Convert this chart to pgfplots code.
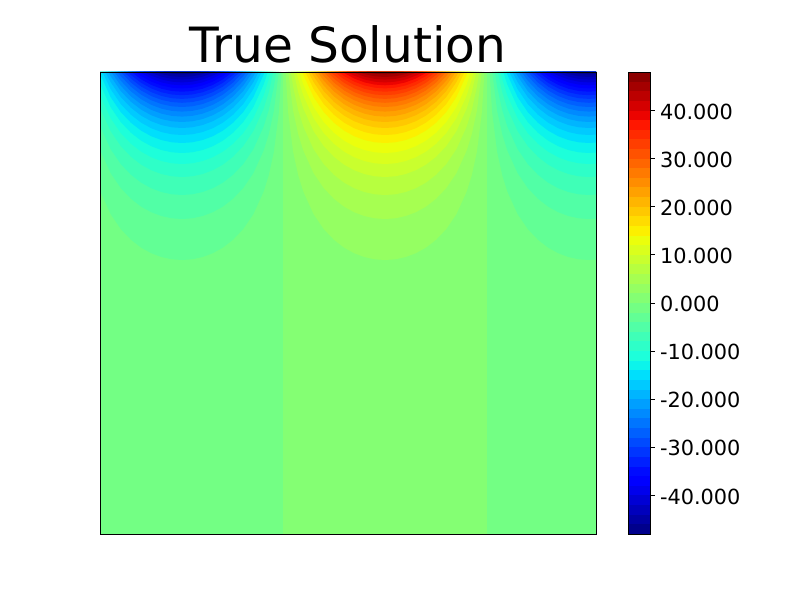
\documentclass[border=0pt]{standalone}
\usepackage{fontspec}
\setmainfont{DejaVu Sans}
\usepackage{pgfplots}
\usepackage{pgfplotstable}
\pgfplotsset{compat=1.18}
% matplotlib jet, 48 bands from -48 to 48 (step 2): pK is band (2K-2,2K), nK the mirror band
\definecolor{p1}{rgb}{.5175,1,.4502}\definecolor{p2}{rgb}{.5847,1,.3830}\definecolor{p3}{rgb}{.6519,1,.3158}
\definecolor{p4}{rgb}{.7191,1,.2486}\definecolor{p5}{rgb}{.7864,1,.1813}\definecolor{p6}{rgb}{.8536,1,.1141}
\definecolor{p7}{rgb}{.9207,1,.0470}\definecolor{p8}{rgb}{.9881,.9396,0}\definecolor{p9}{rgb}{1,.8626,0}
\definecolor{p10}{rgb}{1,.7855,0}\definecolor{p11}{rgb}{1,.7081,0}\definecolor{p12}{rgb}{1,.6310,0}
\definecolor{p13}{rgb}{1,.5540,0}\definecolor{p14}{rgb}{1,.4766,0}\definecolor{p15}{rgb}{1,.3995,0}
\definecolor{p16}{rgb}{1,.3225,0}\definecolor{p17}{rgb}{1,.2451,0}\definecolor{p18}{rgb}{1,.1681,0}
\definecolor{p19}{rgb}{1,.0911,0}\definecolor{p20}{rgb}{.9259,.0136,0}\definecolor{p21}{rgb}{.8314,0,0}
\definecolor{p22}{rgb}{.7368,0,0}\definecolor{p23}{rgb}{.6418,0,0}\definecolor{p24}{rgb}{.5473,0,0}
\definecolor{n1}{rgb}{.4503,1,.5174}\definecolor{n2}{rgb}{.3832,1,.5845}\definecolor{n3}{rgb}{.3158,1,.6519}
\definecolor{n4}{rgb}{.2487,1,.7190}\definecolor{n5}{rgb}{.1816,1,.7861}\definecolor{n6}{rgb}{.1142,1,.8535}
\definecolor{n7}{rgb}{.0471,.9584,.9206}\definecolor{n8}{rgb}{0,.8752,.9877}\definecolor{n9}{rgb}{0,.7916,1}
\definecolor{n10}{rgb}{0,.7084,1}\definecolor{n11}{rgb}{0,.6252,1}\definecolor{n12}{rgb}{0,.5416,1}
\definecolor{n13}{rgb}{0,.4584,1}\definecolor{n14}{rgb}{0,.3752,1}\definecolor{n15}{rgb}{0,.2916,1}
\definecolor{n16}{rgb}{0,.2084,1}\definecolor{n17}{rgb}{0,.1252,1}\definecolor{n18}{rgb}{0,.0416,1}
\definecolor{n19}{rgb}{0,0,1}\definecolor{n20}{rgb}{0,0,.9263}\definecolor{n21}{rgb}{0,0,.8313}
\definecolor{n22}{rgb}{0,0,.7368}\definecolor{n23}{rgb}{0,0,.6423}\definecolor{n24}{rgb}{0,0,.5473}
% contour of each level: horizontal offset from the lobe centre, depth below the top edge
\pgfplotstableread[row sep=\\]{dx d\\-99.4 0\\-96.9 40\\-91.8 80.2\\-86.7 103.4\\-81.6 119.7\\-71.4 142.1\\-61.2 157.1\\-51 167.8\\-40.8 175.7\\-30.6 181.3\\-20.4 185.1\\-10.2 187.3\\0 188\\10.2 187.3\\20.4 185.1\\30.6 181.3\\40.8 175.7\\51 167.8\\61.2 157.1\\71.4 142.1\\81.6 119.7\\86.7 103.4\\91.8 80.2\\96.9 40\\99.4 0\\}\Tb
\pgfplotstableread[row sep=\\]{dx d\\-96.8 0\\-91.8 39.2\\-86.7 62.4\\-81.6 78.7\\-71.4 101.1\\-61.2 116.1\\-51 126.8\\-40.8 134.7\\-30.6 140.3\\-20.4 144.1\\-10.2 146.3\\0 147\\10.2 146.3\\20.4 144.1\\30.6 140.3\\40.8 134.7\\51 126.8\\61.2 116.1\\71.4 101.1\\81.6 78.7\\86.7 62.4\\91.8 39.2\\96.8 0\\}\Tc
\pgfplotstableread[row sep=\\]{dx d\\-94.2 0\\-91.8 15.2\\-86.7 38.4\\-81.6 54.7\\-71.4 77.1\\-61.2 92.1\\-51 102.8\\-40.8 110.7\\-30.6 116.3\\-20.4 120.1\\-10.2 122.3\\0 123\\10.2 122.3\\20.4 120.1\\30.6 116.3\\40.8 110.7\\51 102.8\\61.2 92.1\\71.4 77.1\\81.6 54.7\\86.7 38.4\\91.8 15.2\\94.2 0\\}\Td
\pgfplotstableread[row sep=\\]{dx d\\-91.3 0\\-86.7 20.4\\-81.6 36.7\\-71.4 59.1\\-61.2 74.1\\-51 84.8\\-40.8 92.7\\-30.6 98.3\\-20.4 102.1\\-10.2 104.3\\0 105\\10.2 104.3\\20.4 102.1\\30.6 98.3\\40.8 92.7\\51 84.8\\61.2 74.1\\71.4 59.1\\81.6 36.7\\86.7 20.4\\91.3 0\\}\Te
\pgfplotstableread[row sep=\\]{dx d\\-88.6 0\\-86.7 7.4\\-81.6 23.7\\-71.4 46.1\\-61.2 61.1\\-51 71.8\\-40.8 79.7\\-30.6 85.3\\-20.4 89.1\\-10.2 91.3\\0 92\\10.2 91.3\\20.4 89.1\\30.6 85.3\\40.8 79.7\\51 71.8\\61.2 61.1\\71.4 46.1\\81.6 23.7\\86.7 7.4\\88.6 0\\}\Tf
\pgfplotstableread[row sep=\\]{dx d\\-85.7 0\\-81.6 12.7\\-71.4 35.1\\-61.2 50.1\\-51 60.8\\-40.8 68.7\\-30.6 74.3\\-20.4 78.1\\-10.2 80.3\\0 81\\10.2 80.3\\20.4 78.1\\30.6 74.3\\40.8 68.7\\51 60.8\\61.2 50.1\\71.4 35.1\\81.6 12.7\\85.7 0\\}\Tg
\pgfplotstableread[row sep=\\]{dx d\\-82.6 0\\-81.6 2.7\\-71.4 25.1\\-61.2 40.1\\-51 50.8\\-40.8 58.7\\-30.6 64.3\\-20.4 68.1\\-10.2 70.3\\0 71\\10.2 70.3\\20.4 68.1\\30.6 64.3\\40.8 58.7\\51 50.8\\61.2 40.1\\71.4 25.1\\81.6 2.7\\82.6 0\\}\Th
\pgfplotstableread[row sep=\\]{dx d\\-79.6 0\\-71.4 17.1\\-61.2 32.1\\-51 42.8\\-40.8 50.7\\-30.6 56.3\\-20.4 60.1\\-10.2 62.3\\0 63\\10.2 62.3\\20.4 60.1\\30.6 56.3\\40.8 50.7\\51 42.8\\61.2 32.1\\71.4 17.1\\79.6 0\\}\Ti
\pgfplotstableread[row sep=\\]{dx d\\-76.6 0\\-71.4 10.1\\-61.2 25.1\\-51 35.8\\-40.8 43.7\\-30.6 49.3\\-20.4 53.1\\-10.2 55.3\\0 56\\10.2 55.3\\20.4 53.1\\30.6 49.3\\40.8 43.7\\51 35.8\\61.2 25.1\\71.4 10.1\\76.6 0\\}\Tj
\pgfplotstableread[row sep=\\]{dx d\\-73.6 0\\-71.4 4.1\\-61.2 19.1\\-51 29.8\\-40.8 37.7\\-30.6 43.3\\-20.4 47.1\\-10.2 49.3\\0 50\\10.2 49.3\\20.4 47.1\\30.6 43.3\\40.8 37.7\\51 29.8\\61.2 19.1\\71.4 4.1\\73.6 0\\}\Tk
\pgfplotstableread[row sep=\\]{dx d\\-70.7 0\\-61.2 13.7\\-51 24.4\\-40.8 32.3\\-30.6 37.9\\-20.4 41.7\\-10.2 43.9\\0 44.6\\10.2 43.9\\20.4 41.7\\30.6 37.9\\40.8 32.3\\51 24.4\\61.2 13.7\\70.7 0\\}\Tl
\pgfplotstableread[row sep=\\]{dx d\\-67.5 0\\-61.2 8.7\\-51 19.4\\-40.8 27.3\\-30.6 32.9\\-20.4 36.7\\-10.2 38.9\\0 39.6\\10.2 38.9\\20.4 36.7\\30.6 32.9\\40.8 27.3\\51 19.4\\61.2 8.7\\67.5 0\\}\Tm
\pgfplotstableread[row sep=\\]{dx d\\-64.4 0\\-61.2 4.1\\-51 14.8\\-40.8 22.7\\-30.6 28.3\\-20.4 32.1\\-10.2 34.3\\0 35\\10.2 34.3\\20.4 32.1\\30.6 28.3\\40.8 22.7\\51 14.8\\61.2 4.1\\64.4 0\\}\Tn
\pgfplotstableread[row sep=\\]{dx d\\-61.1 0\\-51 10.6\\-40.8 18.5\\-30.6 24.1\\-20.4 27.9\\-10.2 30.1\\0 30.8\\10.2 30.1\\20.4 27.9\\30.6 24.1\\40.8 18.5\\51 10.6\\61.1 0\\}\To
\pgfplotstableread[row sep=\\]{dx d\\-57.8 0\\-51 6.7\\-40.8 14.6\\-30.6 20.2\\-20.4 24\\-10.2 26.2\\0 26.9\\10.2 26.2\\20.4 24\\30.6 20.2\\40.8 14.6\\51 6.7\\57.8 0\\}\Tp
\pgfplotstableread[row sep=\\]{dx d\\-54.2 0\\-51 3\\-40.8 10.9\\-30.6 16.5\\-20.4 20.3\\-10.2 22.5\\0 23.2\\10.2 22.5\\20.4 20.3\\30.6 16.5\\40.8 10.9\\51 3\\54.2 0\\}\Tq
\pgfplotstableread[row sep=\\]{dx d\\-50.5 0\\-40.8 7.4\\-30.6 13\\-20.4 16.8\\-10.2 19\\0 19.7\\10.2 19\\20.4 16.8\\30.6 13\\40.8 7.4\\50.5 0\\}\Tr
\pgfplotstableread[row sep=\\]{dx d\\-46.5 0\\-40.8 4.1\\-30.6 9.7\\-20.4 13.5\\-10.2 15.7\\0 16.4\\10.2 15.7\\20.4 13.5\\30.6 9.7\\40.8 4.1\\46.5 0\\}\Ts
\pgfplotstableread[row sep=\\]{dx d\\-42.3 0\\-40.8 1\\-30.6 6.6\\-20.4 10.4\\-10.2 12.6\\0 13.3\\10.2 12.6\\20.4 10.4\\30.6 6.6\\40.8 1\\42.3 0\\}\Tt
\pgfplotstableread[row sep=\\]{dx d\\-38.3 0\\-30.6 3.7\\-20.4 7.5\\-10.2 9.7\\0 10.4\\10.2 9.7\\20.4 7.5\\30.6 3.7\\38.3 0\\}\Tu
\pgfplotstableread[row sep=\\]{dx d\\-32.5 0\\-30.6 .9\\-20.4 4.7\\-10.2 6.9\\0 7.6\\10.2 6.9\\20.4 4.7\\30.6 .9\\32.5 0\\}\Tv
\pgfplotstableread[row sep=\\]{dx d\\-26.5 0\\-20.4 2.1\\-10.2 4.3\\0 5\\10.2 4.3\\20.4 2.1\\26.5 0\\}\Tw
\pgfplotstableread[row sep=\\]{dx d\\-18.5 0\\-10.2 1.7\\0 2.4\\10.2 1.7\\18.5 0\\}\Tx
\newcommand\lobe[3]{%
  \addplot[fill=#2,draw=none] table[x expr=\thisrow{dx}+182,y=d]{#1};
  \addplot[fill=#3,draw=none] table[x expr=\thisrow{dx}+385,y=d]{#1};
  \addplot[fill=#2,draw=none] table[x expr=\thisrow{dx}+589,y=d]{#1};
}
\newcommand\cb[2]{\addplot[fill=#1,draw=none] coordinates {(0,#2)(1,#2)(1,48)(0,48)};}
\begin{document}
\begin{tikzpicture}[x=1in,y=1in]
\path (0,0) rectangle (8,6);
\begin{axis}[at={(1in,.66in)},anchor=south west,width=4.96in,height=4.62in,scale only axis,
  xmin=100,xmax=596,ymin=0,ymax=462,y dir=reverse,xtick=\empty,ytick=\empty,
  axis on top,axis line style={line width=.7bp,black},no markers]
\addplot[fill=n1,draw=none] coordinates {(100,0)(283,0)(283,462)(100,462)};
\addplot[fill=p1,draw=none] coordinates {(283,0)(487,0)(487,462)(283,462)};
\addplot[fill=n1,draw=none] coordinates {(487,0)(596,0)(596,462)(487,462)};
\lobe{\Tb}{n2}{p2}\lobe{\Tc}{n3}{p3}\lobe{\Td}{n4}{p4}\lobe{\Te}{n5}{p5}
\lobe{\Tf}{n6}{p6}\lobe{\Tg}{n7}{p7}\lobe{\Th}{n8}{p8}\lobe{\Ti}{n9}{p9}
\lobe{\Tj}{n10}{p10}\lobe{\Tk}{n11}{p11}\lobe{\Tl}{n12}{p12}\lobe{\Tm}{n13}{p13}
\lobe{\Tn}{n14}{p14}\lobe{\To}{n15}{p15}\lobe{\Tp}{n16}{p16}\lobe{\Tq}{n17}{p17}
\lobe{\Tr}{n18}{p18}\lobe{\Ts}{n19}{p19}\lobe{\Tt}{n20}{p20}\lobe{\Tu}{n21}{p21}
\lobe{\Tv}{n22}{p22}\lobe{\Tw}{n23}{p23}\lobe{\Tx}{n24}{p24}
\end{axis}
\begin{axis}[at={(6.28in,.66in)},anchor=south west,width=.22in,height=4.62in,scale only axis,
  xmin=0,xmax=1,ymin=-48,ymax=48,xtick=\empty,
  ytick={-40,-30,-20,-10,0,10,20,30,40},
  yticklabels={-40.000,-30.000,-20.000,-10.000,0.000,10.000,20.000,30.000,40.000},
  ytick pos=right,tick align=outside,major tick length=3.5bp,
  tick style={line width=.7bp,black},
  yticklabel style={font=\fontsize{15bp}{18bp}\selectfont,inner sep=0pt,xshift=3.5bp,yshift=-.7bp},
  axis on top,axis line style={line width=.7bp,black},no markers]
\cb{n24}{-48}\cb{n23}{-46}\cb{n22}{-44}\cb{n21}{-42}\cb{n20}{-40}\cb{n19}{-38}
\cb{n18}{-36}\cb{n17}{-34}\cb{n16}{-32}\cb{n15}{-30}\cb{n14}{-28}\cb{n13}{-26}
\cb{n12}{-24}\cb{n11}{-22}\cb{n10}{-20}\cb{n9}{-18}\cb{n8}{-16}\cb{n7}{-14}
\cb{n6}{-12}\cb{n5}{-10}\cb{n4}{-8}\cb{n3}{-6}\cb{n2}{-4}\cb{n1}{-2}
\cb{p1}{0}\cb{p2}{2}\cb{p3}{4}\cb{p4}{6}\cb{p5}{8}\cb{p6}{10}
\cb{p7}{12}\cb{p8}{14}\cb{p9}{16}\cb{p10}{18}\cb{p11}{20}\cb{p12}{22}
\cb{p13}{24}\cb{p14}{26}\cb{p15}{28}\cb{p16}{30}\cb{p17}{32}\cb{p18}{34}
\cb{p19}{36}\cb{p20}{38}\cb{p21}{40}\cb{p22}{42}\cb{p23}{44}\cb{p24}{46}
\end{axis}
\node[anchor=base,inner sep=0pt] at (3.48,5.37) {\fontsize{35bp}{42bp}\selectfont True Solution};
\end{tikzpicture}
\end{document}
